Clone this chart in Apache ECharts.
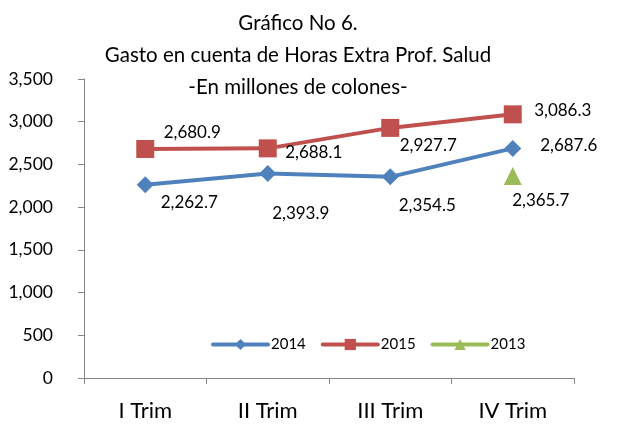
<!DOCTYPE html>
<html>
<head>
<meta charset="utf-8">
<script src="https://cdn.jsdelivr.net/npm/echarts@6/dist/echarts.min.js"></script>
<style>
html, body { margin: 0; padding: 0; background: #fff; }
#chart { width: 621px; height: 428px; }
</style>
</head>
<body>
<div id="chart"></div>
<script>
var categories = ["I Trim", "II Trim", "III Trim", "IV Trim"];
var data2014 = [2262.7, 2393.9, 2354.5, 2687.6];
var data2015 = [2680.9, 2688.1, 2927.7, 3086.3];
var data2013 = ["-", "-", "-", 2365.7];
// label offsets (px) from each point, as in the original
var off2014 = [[44, 18], [33, 40], [37, 29], [56, -3]];
var off2015 = [[47, -16], [46, 4], [38, 18], [50, -4]];
var off2013 = [null, null, null, [28, 25]];

var font = "Lato, 'Open Sans', sans-serif";

function fmt(v) {
    return Number(v).toLocaleString("en-US", { minimumFractionDigits: 1, maximumFractionDigits: 1 });
}

function withLabels(values, offsets) {
    return values.map(function (v, i) {
        if (v === "-") return v;
        return {
            value: v,
            label: {
                show: true,
                position: "inside",
                offset: offsets[i],
                align: "center",
                verticalAlign: "middle",
                formatter: function (p) { return fmt(p.value); },
                color: "#000",
                fontSize: 17,
                fontFamily: font
            }
        };
    });
}

var myChart = echarts.init(document.getElementById("chart"));

var option = {
    animation: false,
    title: {
        text: "Gráfico No 6.\nGasto en cuenta de Horas Extra Prof. Salud\n-En millones de colones-",
        left: 293,
        textAlign: "center",
        top: 2,
        textStyle: {
            fontFamily: font,
            fontWeight: "normal",
            fontSize: 20.5,
            lineHeight: 32,
            color: "#000"
        }
    },
    legend: {
        data: ["2014", "2015", "2013"],
        left: 206,
        top: 332,
        itemWidth: 55,
        itemHeight: 14,
        itemGap: 15,
        lineStyle: { width: 4, cap: "round" },
        textStyle: { fontFamily: font, fontSize: 15, color: "#000", padding: [0, 0, 0, -2] }
    },
    grid: { left: 84, right: 47, top: 79, bottom: 50 },
    xAxis: {
        type: "category",
        data: categories,
        boundaryGap: true,
        axisLine: { lineStyle: { color: "#868686", width: 1 } },
        axisTick: { show: true, length: 6, lineStyle: { color: "#868686" } },
        axisLabel: { color: "#000", fontSize: 22, fontFamily: font, margin: 22 }
    },
    yAxis: {
        type: "value",
        min: 0,
        max: 3500,
        interval: 500,
        axisLine: { show: true, lineStyle: { color: "#868686", width: 1 } },
        axisTick: { show: true, length: 6, lineStyle: { color: "#868686" } },
        splitLine: { show: false },
        axisLabel: {
            color: "#000",
            fontSize: 17.5,
            fontFamily: font,
            margin: 31,
            formatter: function (v) { return v.toLocaleString("en-US"); }
        }
    },
    series: [
        {
            name: "2014",
            type: "line",
            data: withLabels(data2014, off2014),
            symbol: "diamond",
            symbolSize: 17,
            lineStyle: { color: "#4F81BD", width: 4 },
            itemStyle: { color: "#4F81BD" }
        },
        {
            name: "2015",
            type: "line",
            data: withLabels(data2015, off2015),
            symbol: "rect",
            symbolSize: 18,
            lineStyle: { color: "#C0504D", width: 4 },
            itemStyle: { color: "#C0504D" }
        },
        {
            name: "2013",
            type: "line",
            data: withLabels(data2013, off2013),
            symbol: "triangle",
            symbolSize: 18,
            lineStyle: { color: "#9BBB59", width: 4 },
            itemStyle: { color: "#9BBB59" }
        }
    ]
};
myChart.setOption(option);
</script>
</body>
</html>
